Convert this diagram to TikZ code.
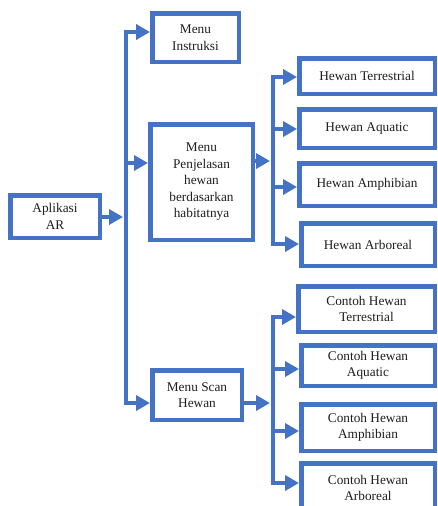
\documentclass[tikz,border=0pt]{standalone}
\usepackage{fontspec}
\setmainfont{Liberation Serif}
\usetikzlibrary{arrows.meta}
\definecolor{ofblue}{HTML}{4472C4}
\definecolor{txt}{HTML}{1E1E1E}
\tikzset{
  boxnode/.style={draw=ofblue, line width=4.5pt, fill=white, align=center,
    inner sep=1pt, text=txt, font=\fontsize{13.3}{16.5}\selectfont},
  conn/.style={draw=ofblue, line width=4.5pt, line join=round},
  arr/.style={conn, -{Triangle[length=14pt,width=15pt]}},
}
\begin{document}
\begin{tikzpicture}[x=1pt,y=-1pt]
\useasboundingbox (0,0) rectangle (437,506);
\clip (0,0) rectangle (437,506);
% level 1
\node[boxnode, minimum width=89.5pt, minimum height=42.5pt] (A) at (55,216.5) {Aplikasi\\AR};
% level 2
\node[boxnode, minimum width=86.5pt, minimum height=48.5pt] (MI) at (195.5,37.5) {Menu\\Instruksi};
\node[boxnode, minimum width=102.5pt, minimum height=115.5pt] (MP) at (201.5,182) {Menu\\Penjelasan\\hewan\\berdasarkan\\habitatnya};
\node[boxnode, minimum width=89.5pt, minimum height=49.5pt] (MS) at (197,395) {Menu Scan\\Hewan};
% level 3 (habitat)
\node[boxnode, minimum width=135.5pt, minimum height=35.5pt] (H1) at (367,76) {Hewan Terrestrial};
\node[boxnode, minimum width=135.5pt, minimum height=38.5pt] (H2) at (367,128.5) {Hewan Aquatic};
\node[boxnode, minimum width=135.5pt, minimum height=42.5pt] (H3) at (367,184.5) {Hewan Amphibian};
\node[boxnode, minimum width=133.5pt, minimum height=42.5pt] (H4) at (368,244.5) {Hewan Arboreal};
% level 3 (scan)
\node[boxnode, minimum width=136.5pt, minimum height=45.5pt] (C1) at (366.5,309) {Contoh Hewan\\Terrestrial};
\node[boxnode, minimum width=133.5pt, minimum height=40.5pt] (C2) at (368,365.5) {Contoh Hewan\\Aquatic};
\node[boxnode, minimum width=133.5pt, minimum height=46.5pt] (C3) at (368,427.5) {Contoh Hewan\\Amphibian};
\node[boxnode, minimum width=133.5pt, minimum height=49.5pt] (C4) at (368,488) {Contoh Hewan\\Arboreal};
% trunk coordinates
\coordinate (t1) at (126,32);
\coordinate (t2) at (126,163);
\coordinate (t3) at (126,403);
\coordinate (ta) at (126,217);
\coordinate (u1) at (273,77);
\coordinate (u2) at (273,129);
\coordinate (u3) at (273,187);
\coordinate (u4) at (273,244);
\coordinate (um) at (273,161);
\coordinate (v1) at (273,317);
\coordinate (v2) at (273,369);
\coordinate (v3) at (273,431);
\coordinate (v4) at (273,483);
\coordinate (vm) at (273,403);
% level-1 connectors
\draw[conn] (t1) -- (t3);
\draw[arr] (A.east |- ta) -- ([xshift=-3pt]ta);
\draw[arr] ([xshift=-2.25pt]t1) -- (MI.west |- t1);
\draw[arr] (t2) -- (MP.west |- t2);
\draw[arr] ([xshift=-2.25pt]t3) -- (MS.west |- t3);
% habitat connectors
\draw[conn] (u1) -- (u4);
\draw[arr] (MP.east |- um) -- ([xshift=-3pt]um);
\draw[arr] ([xshift=-2.25pt]u1) -- (H1.west |- u1);
\draw[arr] (u2) -- (H2.west |- u2);
\draw[arr] (u3) -- (H3.west |- u3);
\draw[arr] ([xshift=-2.25pt]u4) -- (H4.west |- u4);
% scan connectors
\draw[conn] (v1) -- (v4);
\draw[arr] (MS.east |- vm) -- ([xshift=-3pt]vm);
\draw[arr] ([xshift=-2.25pt]v1) -- (C1.west |- v1);
\draw[arr] (v2) -- (C2.west |- v2);
\draw[arr] (v3) -- (C3.west |- v3);
\draw[arr] ([xshift=-2.25pt]v4) -- (C4.west |- v4);
\end{tikzpicture}
\end{document}
